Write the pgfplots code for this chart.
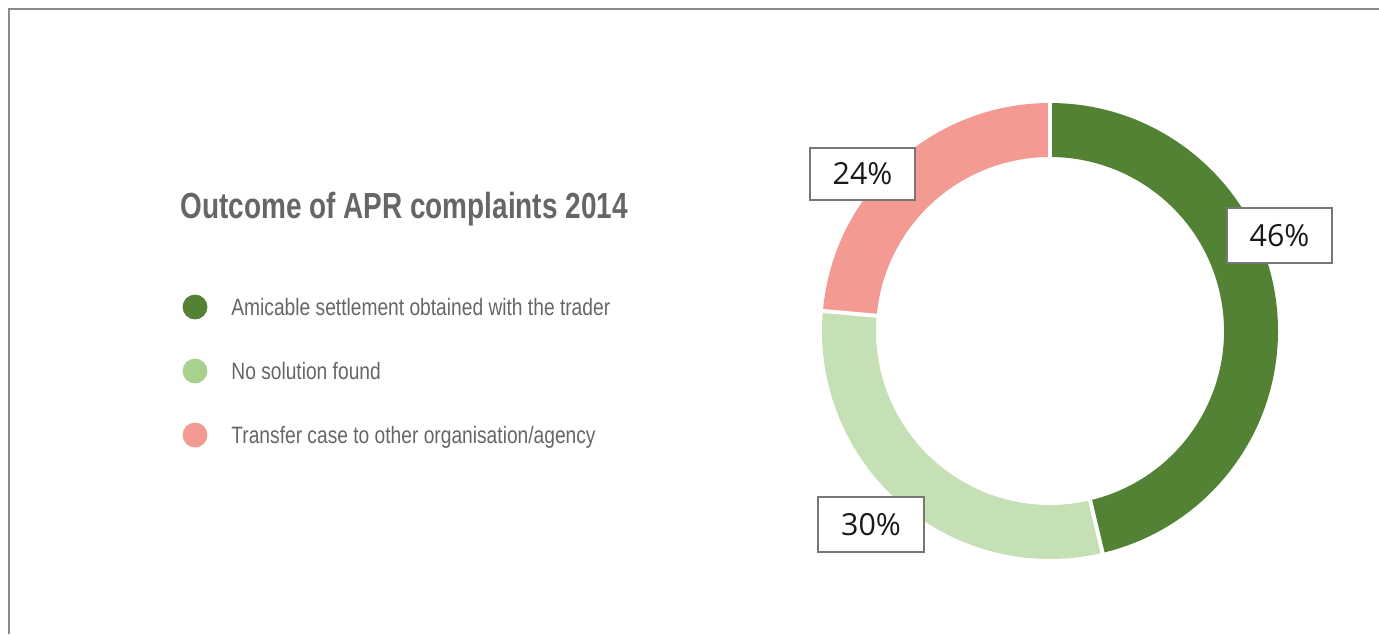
\documentclass[border=0pt]{standalone}
\usepackage{pgfplots}
\pgfplotsset{compat=1.18}
\usepackage{pgfplotstable}
\usetikzlibrary{calc}
\usepackage{fontspec}
\setmainfont{Liberation Sans}
\newfontfamily\titlefont[FakeStretch=0.77]{Liberation Sans}
\newfontfamily\legfont[FakeStretch=0.81]{Liberation Sans}
\newfontfamily\pctfont{Open Sans}
\definecolor{dkgreen}{HTML}{548235}
\definecolor{ltgreen}{HTML}{C5E0B4}
\definecolor{ltgreendot}{HTML}{A9D18E}
\definecolor{pinkc}{HTML}{F39A92}
\definecolor{txtgray}{HTML}{666666}
\definecolor{framegray}{HTML}{8A8A8A}
\definecolor{boxgray}{HTML}{777777}

\pgfplotstableread{
label value
Amicable 46.3
NoSolution 30.1
Transfer 23.6
}\datatable

\begin{document}%
\begin{tikzpicture}
\pgfplotstablegetelem{0}{value}\of\datatable \let\vA\pgfplotsretval
\pgfplotstablegetelem{1}{value}\of\datatable \let\vB\pgfplotsretval
\pgfplotstablegetelem{2}{value}\of\datatable \let\vC\pgfplotsretval
\pgfmathsetmacro\aA{90}
\pgfmathsetmacro\aB{90-3.6*\vA}
\pgfmathsetmacro\aC{\aB-3.6*\vB}
\pgfmathsetmacro\aD{\aC-3.6*\vC}
\begin{axis}[
  x=0.5pt, y=0.5pt,
  xmin=0, xmax=1379, ymin=0, ymax=634,
  hide axis, clip=false, scale only axis,
]
\coordinate (LL) at (axis cs:0,0);
\coordinate (UR) at (axis cs:1379,634);
% frame
\draw[framegray, line width=1pt] (axis cs:9,0) -- (axis cs:9,625) -- (axis cs:1379,625);
% donut
\coordinate (C) at (axis cs:1050,303);
\fill[dkgreen] ($(C)+(\aA:114pt)$) arc[start angle=\aA, end angle=\aB, radius=114pt]
  -- ($(C)+(\aB:87pt)$) arc[start angle=\aB, end angle=\aA, radius=87pt] -- cycle;
\fill[ltgreen] ($(C)+(\aB:114pt)$) arc[start angle=\aB, end angle=\aC, radius=114pt]
  -- ($(C)+(\aC:87pt)$) arc[start angle=\aC, end angle=\aB, radius=87pt] -- cycle;
\fill[pinkc] ($(C)+(\aC:114pt)$) arc[start angle=\aC, end angle=\aD, radius=114pt]
  -- ($(C)+(\aD:87pt)$) arc[start angle=\aD, end angle=\aC, radius=87pt] -- cycle;
\draw[white, line width=2pt] ($(C)+(\aA:85pt)$) -- ($(C)+(\aA:116pt)$);
\draw[white, line width=2pt] ($(C)+(\aB:85pt)$) -- ($(C)+(\aB:116pt)$);
\draw[white, line width=2pt] ($(C)+(\aC:85pt)$) -- ($(C)+(\aC:116pt)$);
% value labels
\node[draw=boxgray, line width=0.6pt, fill=white, minimum width=52.5pt, minimum height=27.5pt,
  inner sep=0pt, font=\pctfont\fontsize{15.2}{18}\selectfont, text=black!90]
  at (axis cs:1279.5,398.5) {46\%};
\node[draw=boxgray, line width=0.6pt, fill=white, minimum width=52.5pt, minimum height=26pt,
  inner sep=0pt, font=\pctfont\fontsize{15.2}{18}\selectfont, text=black!90]
  at (axis cs:862.5,460) {24\%};
\node[draw=boxgray, line width=0.6pt, fill=white, minimum width=53pt, minimum height=27.5pt,
  inner sep=0pt, font=\pctfont\fontsize{15.2}{18}\selectfont, text=black!90]
  at (axis cs:871,109.5) {30\%};
% title
\node[anchor=base west, inner sep=0pt, text=txtgray,
  font=\titlefont\bfseries\fontsize{18.15}{22}\selectfont]
  at (axis cs:180,416) {Outcome of APR complaints 2014};
% legend dots
\addplot[only marks, mark=*, mark size=6pt, color=dkgreen] coordinates {(195,327)};
\addplot[only marks, mark=*, mark size=6pt, color=ltgreendot] coordinates {(195,263)};
\addplot[only marks, mark=*, mark size=6pt, color=pinkc] coordinates {(195,199)};
% legend text
\node[anchor=base west, inner sep=0pt, text=txtgray, font=\legfont\fontsize{11.85}{14}\selectfont]
  at (axis cs:231,319) {Amicable settlement obtained with the trader};
\node[anchor=base west, inner sep=0pt, text=txtgray, font=\legfont\fontsize{11.85}{14}\selectfont]
  at (axis cs:231,255) {No solution found};
\node[anchor=base west, inner sep=0pt, text=txtgray, font=\legfont\fontsize{11.85}{14}\selectfont]
  at (axis cs:231,191) {Transfer case to other organisation/agency};
\end{axis}
\pgfresetboundingbox
\path[use as bounding box] (LL) rectangle (UR);
\end{tikzpicture}%
\end{document}
